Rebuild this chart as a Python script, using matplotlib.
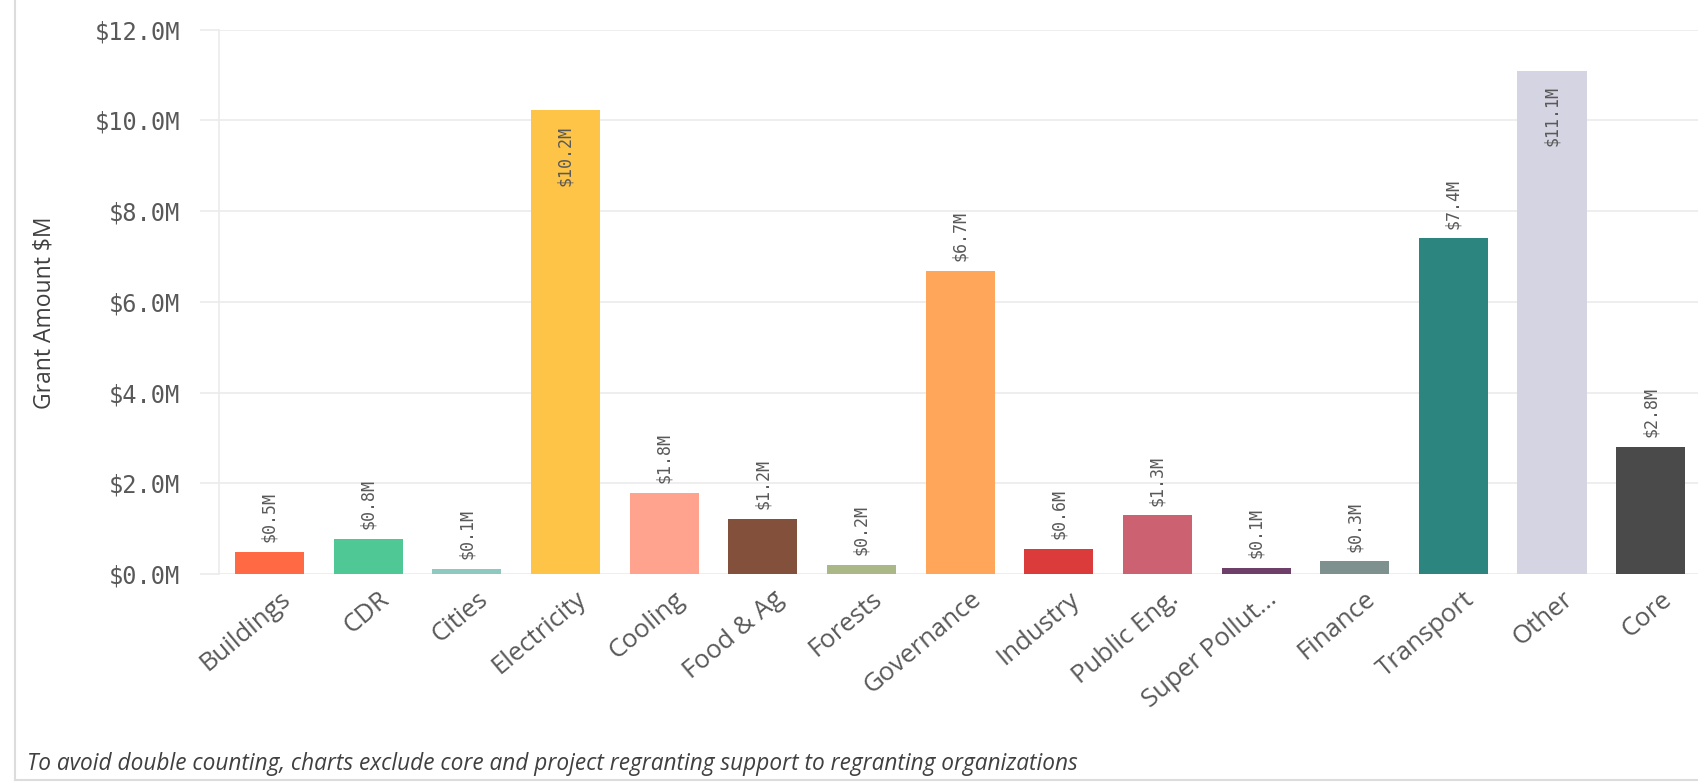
import matplotlib.pyplot as plt
import matplotlib.transforms as mtransforms
from matplotlib.lines import Line2D
import numpy as np

# Datos del gráfico (millones de dólares)
categorias = ['Buildings', 'CDR', 'Cities', 'Electricity', 'Cooling', 'Food & Ag',
              'Forests', 'Governance', 'Industry', 'Public Eng.', 'Super Pollut...',
              'Finance', 'Transport', 'Other', 'Core']
montos = [0.48, 0.78, 0.12, 10.22, 1.79, 1.21, 0.2, 6.68, 0.56, 1.29, 0.13, 0.28, 7.4, 11.1, 2.8]
colores = ['#FF6A45', '#4FC896', '#8EC9C0', '#FDC448', '#FFA28E', '#83503C', '#A9B886',
           '#FFA65A', '#DC3B3B', '#CB6171', '#6E3F69', '#7F918E', '#2D8580', '#D5D4E3', '#4A4A4A']
yticks = [0, 2, 4, 6, 8, 10, 12]
nota = 'To avoid double counting, charts exclude core and project regranting support to regranting organizations'

fig = plt.figure(figsize=(16.99, 7.82), dpi=100)
ax = fig.add_axes([0.129, 0.266, 0.871, 0.696])

x = np.arange(len(categorias))
ax.bar(x, montos, width=0.70, color=colores, zorder=3)

ax.set_xlim(-0.51, len(categorias) - 0.51)
ax.set_ylim(0, 12)
ax.set_yticks(yticks)
ax.set_yticklabels([f'${v:.1f}M' for v in yticks], family='DejaVu Sans Mono',
                   fontsize=17, color='#595959')
ax.grid(axis='y', color='#ebebeb', linewidth=1.2, zorder=0)
ax.tick_params(axis='y', length=14, color='#ebebeb', width=1.2, pad=14)
ax.tick_params(axis='x', length=0, pad=9)
ax.set_xticks(x)
ax.set_xticklabels(categorias, rotation=40, ha='right', rotation_mode='anchor',
                   family='Open Sans', fontsize=18.5, color='#595959')
# desplazar un poco las etiquetas hacia la derecha
desplazamiento = mtransforms.ScaledTranslation(7 / 72, 0, fig.dpi_scale_trans)
for lbl in ax.get_xticklabels():
    lbl.set_transform(lbl.get_transform() + desplazamiento)

for s in ['top', 'right', 'bottom']:
    ax.spines[s].set_visible(False)
ax.spines['left'].set_color('#ebebeb')
ax.spines['left'].set_linewidth(1.2)

ax.set_ylabel('Grant Amount $M', family='Open Sans', fontsize=16.5, color='#404040')
ax.yaxis.set_label_coords(-0.11, 0.48)

# Etiquetas de valor
for xi, v in zip(x, montos):
    txt = f'${v:.1f}M'
    if v > 9.5:
        ax.annotate(txt, (xi, v), xytext=(0, -11), textcoords='offset points',
                    rotation=90, ha='center', va='top', family='DejaVu Sans Mono',
                    fontsize=12, color='#595959', zorder=4)
    else:
        ax.annotate(txt, (xi, v), xytext=(0, 7), textcoords='offset points',
                    rotation=90, ha='center', va='bottom', family='DejaVu Sans Mono',
                    fontsize=12, color='#595959', zorder=4)

# Marco del panel y nota
fig.add_artist(Line2D([15 / 1699, 15 / 1699], [0.003, 1.0], color='#dcdcdc', linewidth=1.5))
fig.add_artist(Line2D([15 / 1699, 1.0], [0.003, 0.003], color='#dcdcdc', linewidth=1.5))
fig.text(27 / 1699, 1 - 764 / 782, nota, family='Open Sans', style='italic',
         fontsize=16.3, color='#404040', va='center')

plt.savefig('out.png', dpi=100)
